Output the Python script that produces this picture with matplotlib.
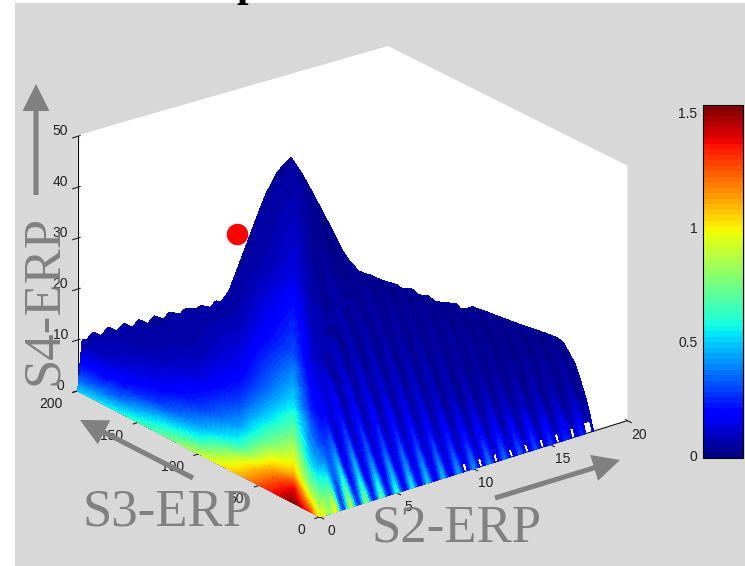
import numpy as np
import matplotlib
matplotlib.use("Agg")
import matplotlib.pyplot as plt
from matplotlib.colors import Normalize
from matplotlib.cm import ScalarMappable

# ---- values ----
s2_ticks = [0, 5, 10, 15, 20]
s3_ticks = [0, 50, 100, 150, 200]
s4_ticks = [0, 10, 20, 30, 40, 50]
cbar_ticks = [0, 0.5, 1, 1.5]
cbar_labels = ["0", "0.5", "1", "1.5"]

# surface height (S4) at control nodes: rows = S3, columns = S2
height_s2 = [0, .3, 1, 2, 3, 4, 5, 6, 6.7, 7.3, 8, 10, 12, 14, 16, 18]
height_s3 = [0, 4, 8, 15, 25, 30, 40, 50, 60, 75, 90, 100, 109, 120, 130, 140, 150, 160, 170, 200]
height_s4 = [
    [0, 0, 0, 0, 0, 0, 0, 0, 0, 0, 0, 0, 0, 0, 0, 0],
    [0, 1.9, 2.6, 2.6, 2.6, 2.6, 2.6, 2.6, 2.6, 2.6, 2.6, 2.6, 2.6, 2.6, 3, 4],
    [0, 3.7, 5.1, 5.1, 5.1, 5.1, 5.1, 5.1, 5.1, 5.1, 5.1, 5.1, 5.1, 5.1, 5.5, 7],
    [0, 7, 9.6, 9.6, 9.6, 9.6, 9.6, 9.6, 9.6, 9.6, 9.6, 9.6, 9.6, 9.6, 9.8, 11.3],
    [0, 9, 14, 16, 16, 16, 16, 16, 16, 16, 16, 16, 16, 16, 16, 14],
    [0, 10, 14, 19.2, 19.2, 19.2, 19.2, 19.2, 19.2, 19.2, 19.2, 19.2, 19.2, 19.2, 17.3, 14.2],
    [0, 10, 13, 17, 21, 25.6, 25.6, 25.6, 25.6, 25.6, 25.6, 25.6, 25, 20.8, 16.3, 13.9],
    [0, 10, 12.5, 15.5, 19, 24, 30, 30, 30, 32, 32, 28.5, 24, 19.8, 15.3, 13.6],
    [0, 10, 12, 14.5, 17, 20, 24, 27, 35.6, 33.5, 32, 27.5, 23, 18.8, 14.3, 13.2],
    [0, 10, 12, 15, 19, 25, 35, 36, 41, 32, 30.5, 26, 21.5, 17.3, 12.8, 12.8],
    [0, 10, 12, 14.5, 17, 21, 30, 43, 45.9, 30.5, 29, 24.5, 20, 15.8, 12.3, 12.3],
    [0, 10, 11.5, 14, 16, 20, 27, 46, 49, 29.5, 28, 23.5, 19, 14.8, 11.9, 11.9],
    [0, 10, 11, 13, 15, 19, 25, 45, 51, 28.6, 27, 22.6, 18, 14, 11, 10],
    [0, 10, 11, 12.5, 14, 17, 22, 40, 46.8, 28, 26, 22, 17, 13.5, 10, 9],
    [0, 10, 10.7, 12, 13, 15, 19, 28, 41, 27, 25, 21, 16, 13, 9.2, 8],
    [0, 10, 10.5, 11, 12, 14, 17, 24, 33.6, 25, 24, 20, 15.5, 12, 9, 8],
    [0, 10, 10, 10.7, 11, 12.5, 14.5, 19.5, 26, 22, 20, 17, 14, 11, 8.7, 8],
    [0, 10, 10, 10.5, 10.5, 11, 12, 15, 18.5, 17, 16, 14, 12, 10, 8.5, 8],
    [0, 10, 10, 10, 10, 10, 10.5, 11.5, 13.8, 12, 11, 10, 9.5, 9, 8.5, 8],
    [0, 10, 10, 10, 9.8, 9.6, 9.4, 9.2, 9, 8.8, 8.6, 8.5, 8.3, 8, 8, 7],
]
# colour value, rows = position along the front edges, columns = height above them
colour_along = [200, 165, 132, 99, 66, 41, 21, 7, 0, -12, -37, -66, -107, -149, -190, -225]
colour_above = [0, 3, 6, 10, 15, 20, 30, 45, 65]
colour_value = [
    [.50, .30, .17, .05, .03, .02, .02, .02, .02],
    [.58, .35, .20, .10, .05, .03, .02, .02, .02],
    [.70, .50, .28, .15, .07, .04, .02, .02, .02],
    [.90, .60, .42, .25, .13, .07, .03, .02, .02],
    [1.10, .95, .62, .42, .27, .17, .07, .02, .02],
    [1.35, 1.20, 1.00, .72, .50, .36, .20, .07, .02],
    [1.53, 1.40, 1.10, .90, .70, .52, .30, .14, .04],
    [1.30, .95, .70, .50, .35, .25, .12, .05, .02],
    [.95, .80, .62, .45, .28, .18, .10, .05, .02],
    [1.05, .85, .68, .48, .30, .20, .10, .05, .02],
    [.85, .65, .48, .35, .24, .16, .08, .03, .02],
    [.62, .50, .40, .28, .18, .12, .06, .02, .02],
    [.48, .38, .28, .18, .10, .07, .04, .02, .02],
    [.38, .30, .20, .12, .07, .04, .02, .02, .02],
    [.30, .22, .14, .08, .05, .03, .02, .02, .02],
    [.25, .17, .10, .05, .03, .02, .02, .02, .02],
]
# one period of the ripple across S2 (ridge ... valley ... ridge)
ripple_phase = [0, .15, .35, .5, .65, .85, 1]
ripple_height = [.6, .35, -.35, -.6, -.35, .35, .6]
ripple_colour = [1.0, .8, .4, .3, .4, .8, 1.0]

GREY = "#808080"
BG = "#d8d8d8"
SERIF = "Liberation Serif"
SANS = "Liberation Sans"


def table_lookup(xn, yn, table, x, y):
    table = np.asarray(table, float)
    xn = np.asarray(xn, float)
    yn = np.asarray(yn, float)
    i = np.clip(np.searchsorted(xn, x) - 1, 0, len(xn) - 2)
    j = np.clip(np.searchsorted(yn, y) - 1, 0, len(yn) - 2)
    tx = np.clip((x - xn[i]) / (xn[i + 1] - xn[i]), 0, 1)
    ty = np.clip((y - yn[j]) / (yn[j + 1] - yn[j]), 0, 1)
    return (table[j, i] * (1 - tx) * (1 - ty) + table[j, i + 1] * tx * (1 - ty)
            + table[j + 1, i] * (1 - tx) * ty + table[j + 1, i + 1] * tx * ty)


fig = plt.figure(figsize=(7.45, 5.66), dpi=100, facecolor="white")
W, H = 745, 566
bg = fig.add_axes([15 / W, 0, (W - 15) / W, (H - 3) / H], zorder=0)
bg.set_facecolor(BG)
bg.set_xticks([]); bg.set_yticks([])
for s in bg.spines.values():
    s.set_visible(False)

side = 600
ax = fig.add_axes([44.4 / W, -20.6 / H, side / W, side / H], projection="3d",
                  proj_type="ortho", zorder=1)
ax.patch.set_alpha(0)
ax.view_init(elev=23.8, azim=-127.8)
ax.set_box_aspect((389, 395, 278), zoom=1.004)
ax.set_xlim(0, 20); ax.set_ylim(0, 200); ax.set_zlim(0, 50)

# fine mesh that carries the read control values across the facets
s2_mesh = np.r_[np.arange(0, .3, .015), np.arange(.3, 17.81, .1)]
s3_mesh = np.r_[np.arange(0, 130, 1), np.arange(130, 200.1, 2)]
X, Y = np.meshgrid(s2_mesh, s3_mesh)
Z = table_lookup(height_s2, height_s3, height_s4, X, Y)
phase = X % 1
rip_on = np.clip(X / .6, 0, 1) * np.clip(Y / 15, 0, 1)
Z = np.maximum(Z + np.interp(phase, ripple_phase, ripple_height) * rip_on, 0)

along = Y - 12.69 * X
above = np.where(along >= 0, Z + 2.49 * X, Z + .196 * Y)
order = np.argsort(colour_along)
V = table_lookup(colour_above, np.array(colour_along)[order],
                 np.array(colour_value)[order], above, along)
strip = np.clip((15 * X - Y - 4) / 15, 0, 1)
V = V * (1 - strip + strip * np.interp(phase, ripple_phase, ripple_colour))

cmap = plt.get_cmap("jet", 64)
norm = Normalize(-0.01, 1.535)
Vc = .25 * (V[:-1, :-1] + V[1:, :-1] + V[:-1, 1:] + V[1:, 1:])
rgba = cmap(norm(Vc))
Xc = .5 * (X[:-1, :-1] + X[:-1, 1:])
Yc = .5 * (Y[:-1, :-1] + Y[1:, :-1])
gap = (Xc > 9) & (np.abs((Xc % 1) - .5) < .05 + .012 * (Xc - 9)) & (Yc < 2)
rgba[gap, 3] = 0
ax.plot_surface(X, Y, Z, facecolors=rgba, rstride=1, cstride=1, linewidth=0,
                antialiased=False, shade=False)

ax.grid(False)
for a in (ax.xaxis, ax.yaxis, ax.zaxis):
    a.set_pane_color((1, 1, 1, 1))
    a.pane.set_edgecolor("white")
    a.line.set_color("#111111")
    a.line.set_linewidth(.8)
ax.set_xticks(s2_ticks); ax.set_yticks(s3_ticks); ax.set_zticks(s4_ticks)
ax.tick_params(labelsize=10, colors="#222222", pad=3, length=2)
ax.tick_params(axis="z", pad=-1)
for a in (ax.xaxis, ax.yaxis, ax.zaxis):
    for t in a.get_major_ticks():
        t.label1.set_family(SANS)
        t.label1.set_va("baseline")
for t in ax.yaxis.get_major_ticks():
    t.label1.set_ha("right")

# colour bar
cax = fig.add_axes([703 / W, (H - 458) / H, 40 / W, 353 / H], zorder=2)
cb = fig.colorbar(ScalarMappable(norm=norm, cmap=cmap), cax=cax, ticks=cbar_ticks)
cb.ax.yaxis.set_ticks_position("left")
cb.ax.set_yticklabels(cbar_labels, family=SANS, fontsize=10, color="#222222")
cb.ax.tick_params(length=0, pad=4)
cb.outline.set_linewidth(.8)

# hand-drawn annotations over the plot
top = fig.add_axes([0, 0, 1, 1], zorder=3)
top.set_xlim(0, W); top.set_ylim(H, 0); top.axis("off"); top.patch.set_alpha(0)
top.fill([78, 388, 626, 626, 388, 78], [135, 46, 165, 150, 25, 120], color=BG, lw=0, zorder=0)
arrow = dict(width=5, head_width=27, head_length=27, length_includes_head=True,
             fc=GREY, ec="none")
top.arrow(36, 195, 0, -111, **arrow)
top.arrow(193, 478, -113, -58, **arrow)
top.arrow(495, 498, 125, -38, **arrow)
top.text(168, 513, "S3-ERP", family=SERIF, fontsize=38, color=GREY, ha="center", va="center")
top.text(457, 529, "S2-ERP", family=SERIF, fontsize=38, color=GREY, ha="center", va="center")
top.text(44, 300, "S4-ERP", family=SERIF, fontsize=38, color=GREY, ha="center", va="center",
         rotation=90)
top.plot([237], [234], "o", color="#ff0000", ms=15.5, mec="none")
top.text(248, 5, "p", family=SERIF, weight="bold", fontsize=30, color="black",
         ha="center", va="bottom")

fig.savefig("out.png", dpi=100, facecolor="white")
